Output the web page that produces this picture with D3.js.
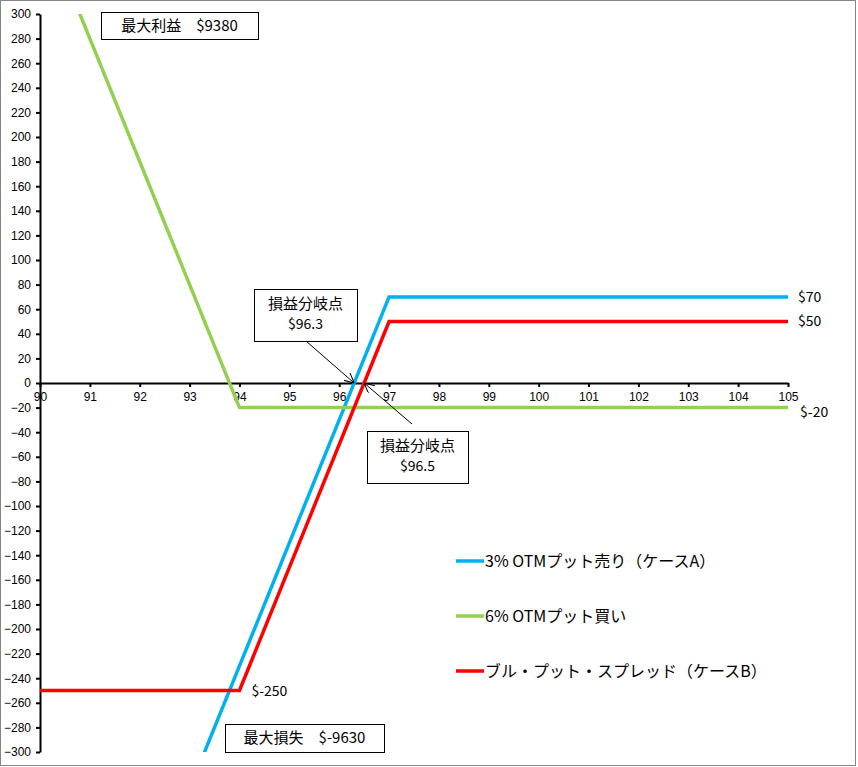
<!DOCTYPE html>
<html>
<head>
<meta charset="utf-8">
<script src="https://d3js.org/d3.v7.min.js"></script>
<style>
  body { margin: 0; background: #fff; }
  text { font-family: "Noto Sans CJK JP", "Noto Sans", sans-serif; }
  .tick text { font-family: "Liberation Sans", Arial, sans-serif; font-size: 12px; }
</style>
</head>
<body>
<svg id="chart" width="858" height="767"></svg>
<script>
// data
const putSellA = [[90, -630], [97, 70], [105, 70]];
const putBuy = [[90, 380], [94, -20], [105, -20]];
const bullSpreadB = [[90, -250], [94, -250], [97, 50], [105, 50]];
const seriesNames = ["3% OTMプット売り（ケースA）", "6% OTMプット買い", "ブル・プット・スプレッド（ケースB）"];
const seriesColors = ["#00b0f0", "#92d050", "#ff0000"];
const xTicks = d3.range(90, 106, 1);
const yTicks = d3.range(-300, 301, 20);

let svg = d3.select("#chart");

svg.append("rect")
    .attr("x", 0.5).attr("y", 0.5)
    .attr("width", 855).attr("height", 765)
    .attr("fill", "#fff").attr("stroke", "#868686");

let x = d3.scaleLinear().domain([90, 105]).range([40, 788]);
let y = d3.scaleLinear().domain([-300, 300]).range([752, 14]);

svg.append("clipPath").attr("id", "plot")
    .append("rect")
    .attr("x", x(90)).attr("y", y(300))
    .attr("width", x(105) - x(90)).attr("height", y(-300) - y(300));

// y axis
let yAxis = svg.append("g")
    .attr("transform", "translate(" + x(90) + ",0)")
    .call(d3.axisLeft(y).tickValues(yTicks).tickSize(4).tickSizeOuter(0));
yAxis.select(".domain").attr("stroke-width", 2);
yAxis.selectAll(".tick line").attr("stroke-width", 2);
yAxis.selectAll(".tick text").attr("x", -9).attr("fill", "#000");

// x axis on zero line
let xAxis = svg.append("g")
    .attr("transform", "translate(0," + y(0) + ")")
    .call(d3.axisBottom(x).tickValues(xTicks).tickSize(4).tickSizeOuter(0));
xAxis.select(".domain").attr("stroke-width", 2);
xAxis.selectAll(".tick line").attr("stroke-width", 2);
xAxis.selectAll(".tick text").attr("y", 9).attr("fill", "#000");

let line = d3.line()
    .x(d => x(d[0]))
    .y(d => y(d[1]));

let group = svg.append("g").attr("clip-path", "url(#plot)");
[putSellA, putBuy, bullSpreadB].forEach((s, i) => {
    group.append("path")
        .attr("d", line(s))
        .attr("fill", "none")
        .attr("stroke", seriesColors[i])
        .attr("stroke-width", 3.5);
});

// end labels
function label(px, py, txt) {
    svg.append("text")
        .attr("x", px).attr("y", py)
        .attr("dy", "0.35em")
        .attr("font-size", 14)
        .text(txt);
}
label(x(105) + 10, y(70), "$70");
label(x(105) + 10, y(50), "$50");
label(x(105) + 12, y(-20) + 4, "$-20");
label(x(94) + 12, y(-250) + 1, "$-250");

// arrow marker
svg.append("defs").append("marker")
    .attr("id", "arrow")
    .attr("viewBox", "0 0 10 10")
    .attr("refX", 10).attr("refY", 5)
    .attr("markerWidth", 10).attr("markerHeight", 10)
    .attr("markerUnits", "userSpaceOnUse")
    .attr("orient", "auto")
    .append("path")
    .attr("d", "M 0 0 L 10 5 L 0 10")
    .attr("fill", "none")
    .attr("stroke", "#000");

function callout(bx, by, bw, bh, lines, from, to) {
    if (from) {
        svg.append("line")
            .attr("x1", from[0]).attr("y1", from[1])
            .attr("x2", x(to[0])).attr("y2", y(to[1]))
            .attr("stroke", "#000").attr("stroke-width", 1)
            .attr("marker-end", "url(#arrow)");
    }
    svg.append("rect")
        .attr("x", bx + 0.5).attr("y", by + 0.5)
        .attr("width", bw).attr("height", bh)
        .attr("fill", "#fff").attr("stroke", "#000");
    lines.forEach((t, i) => {
        svg.append("text")
            .attr("x", bx + bw / 2)
            .attr("y", by + (lines.length == 1 ? bh / 2 : 15 + i * 20))
            .attr("dy", "0.35em")
            .attr("text-anchor", "middle")
            .attr("font-size", t.size)
            .text(t.text);
    });
}

callout(101, 12, 157, 27, [{ text: "最大利益\u3000$9380", size: 15 }]);
callout(225, 724, 159, 28, [{ text: "最大損失\u3000$-9630", size: 15 }]);
callout(254, 289, 103, 52, [{ text: "損益分岐点", size: 15 }, { text: "$96.3", size: 14 }],
    [306, 341], [96.3, 0]);
callout(367, 431, 101, 52, [{ text: "損益分岐点", size: 15 }, { text: "$96.5", size: 14 }],
    [412, 424], [96.5, 0]);

// legend
let legend = svg.append("g").attr("transform", "translate(456,561)");
seriesNames.forEach((name, i) => {
    let row = legend.append("g").attr("transform", "translate(0," + (i * 55) + ")");
    row.append("line")
        .attr("x1", 0).attr("x2", 28)
        .attr("stroke", seriesColors[i]).attr("stroke-width", 3.5);
    row.append("text")
        .attr("x", 29).attr("dy", "0.35em")
        .attr("font-size", 16)
        .text(name);
});
</script>
</body>
</html>
